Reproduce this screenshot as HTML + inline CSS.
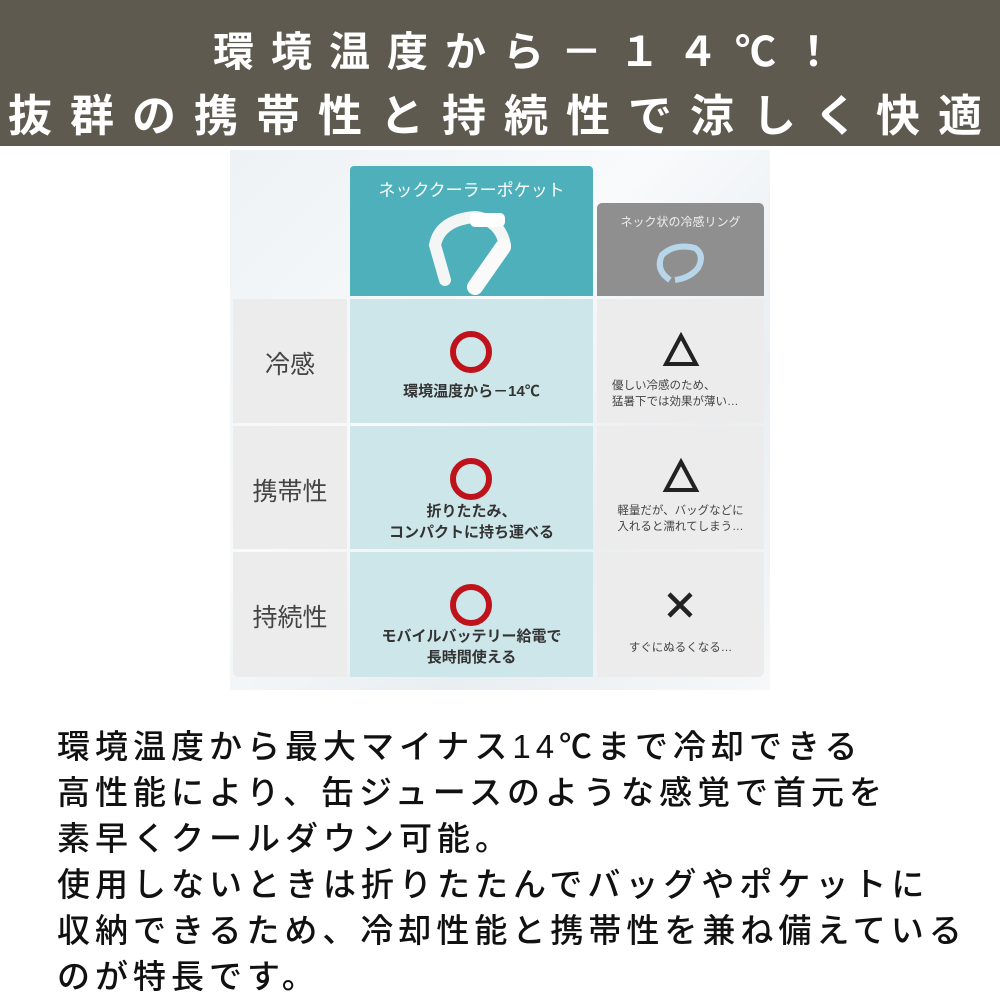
<!DOCTYPE html>
<html><head><meta charset="utf-8"><style>
body{margin:0;width:1000px;height:1000px;position:relative;background:#fff;overflow:hidden;font-family:"Liberation Sans","Noto Sans CJK JP",sans-serif;}
.hd{position:absolute;left:0;top:0;width:1000px;height:146px;background:#5e5a50;}
.t{position:absolute;white-space:nowrap;color:#fff;font-weight:bold;}
.a{position:absolute;}
.c{position:absolute;text-align:center;white-space:nowrap;}
.ring{position:absolute;width:30px;height:30px;border:6px solid #c0121b;border-radius:50%;}
.body{position:absolute;left:57px;font-size:33px;color:#111;white-space:nowrap;font-weight:500;letter-spacing:5px;}
</style></head><body>
<div class="hd"></div>
<div class="t" style="left:213px;top:18px;font-size:41px;letter-spacing:17px;">環境温度から－１４℃！</div>
<div class="t" style="left:8px;top:80px;font-size:44px;letter-spacing:18px;">抜群の携帯性と持続性で涼しく快適</div>

<div class="a" style="left:230px;top:150px;width:540px;height:540px;background:linear-gradient(135deg,#eef2f5,#f8fafb 40%,#e9eef2 70%,#f6f8f9);"></div>
<div class="a" style="left:233px;top:299px;width:114px;height:124px;background:#ececec"></div>
<div class="a" style="left:233px;top:426px;width:114px;height:123px;background:#ececec"></div>
<div class="a" style="left:233px;top:552px;width:114px;height:125px;background:#ececec;border-radius:0 0 0 6px"></div>
<div class="a" style="left:350px;top:166px;width:243px;height:130px;background:#4eb0ba;border-radius:4px 4px 0 0"></div>
<div class="a" style="left:350px;top:299px;width:243px;height:124px;background:#cde6ea"></div>
<div class="a" style="left:350px;top:426px;width:243px;height:123px;background:#cde6ea"></div>
<div class="a" style="left:350px;top:552px;width:243px;height:125px;background:#cde6ea"></div>
<div class="a" style="left:597px;top:203px;width:167px;height:93px;background:#8f8f8f;border-radius:5px 5px 0 0"></div>
<div class="a" style="left:597px;top:299px;width:167px;height:124px;background:#ececec"></div>
<div class="a" style="left:597px;top:426px;width:167px;height:123px;background:#ececec"></div>
<div class="a" style="left:597px;top:552px;width:167px;height:125px;background:#ececec;border-radius:0 0 6px 0"></div>

<div class="c" style="left:350px;width:243px;top:176px;font-size:17px;color:#fff;">ネッククーラーポケット</div>
<svg class="a" style="left:415px;top:205px" width="110" height="90" viewBox="0 0 110 90">
<path d="M30 75 L20 40 Q25 15 60 12 Q85 15 90 40" fill="none" stroke="#f4f6f6" stroke-width="12" stroke-linecap="round"/>
<path d="M88 42 L60 82" stroke="#fafafa" stroke-width="16" stroke-linecap="round"/>
<rect x="55" y="8" width="35" height="14" rx="5" fill="#fff"/>
</svg>
<div class="c" style="left:597px;width:167px;top:213px;font-size:12px;color:#eee;">ネック状の冷感リング</div>
<svg class="a" style="left:650px;top:240px" width="60" height="46"><path d="M20 40 Q5 30 12 15 Q25 3 45 8 Q55 15 48 28 Q40 38 25 40" fill="none" stroke="#b8d6ea" stroke-width="6"/></svg>

<div class="c" style="left:233px;width:114px;top:345px;font-size:25px;color:#444">冷感</div>
<div class="c" style="left:233px;width:114px;top:472px;font-size:25px;color:#444">携帯性</div>
<div class="c" style="left:233px;width:114px;top:598px;font-size:25px;color:#444">持続性</div>

<div class="ring" style="left:450px;top:331px"></div>
<div class="c" style="left:350px;width:243px;top:380px;font-size:15px;color:#333;font-weight:bold">環境温度から－14℃</div>
<div class="ring" style="left:450px;top:458px"></div>
<div class="c" style="left:350px;width:243px;top:501px;font-size:15px;line-height:21px;color:#333;font-weight:bold">折りたたみ、<br>コンパクトに持ち運べる</div>
<div class="ring" style="left:450px;top:584px"></div>
<div class="c" style="left:350px;width:243px;top:626px;font-size:15px;line-height:21px;color:#333;font-weight:bold">モバイルバッテリー給電で<br>長時間使える</div>

<svg class="a" style="left:662px;top:332px" width="38" height="36"><polygon points="19,4 34,32 4,32" fill="none" stroke="#222" stroke-width="4"/></svg>
<div class="a" style="left:600px;top:378px;font-size:11.5px;line-height:16px;color:#444;white-space:nowrap;padding-left:12px">優しい冷感のため、<br>猛暑下では効果が薄い…</div>
<svg class="a" style="left:662px;top:458px" width="38" height="36"><polygon points="19,4 34,32 4,32" fill="none" stroke="#222" stroke-width="4"/></svg>
<div class="c" style="left:597px;width:167px;top:503px;font-size:11.5px;line-height:16px;color:#444">軽量だが、バッグなどに<br>入れると濡れてしまう…</div>
<svg class="a" style="left:665px;top:590px" width="30" height="30"><path d="M4 4L26 26M26 4L4 26" stroke="#222" stroke-width="4.5"/></svg>
<div class="c" style="left:597px;width:167px;top:639px;font-size:11.5px;color:#444">すぐにぬるくなる…</div>

<div class="body" style="top:720px">環境温度から最大マイナス14℃まで冷却できる</div>
<div class="body" style="top:766px">高性能により、缶ジュースのような感覚で首元を</div>
<div class="body" style="top:812px">素早くクールダウン可能。</div>
<div class="body" style="top:858px">使用しないときは折りたたんでバッグやポケットに</div>
<div class="body" style="top:904px">収納できるため、冷却性能と携帯性を兼ね備えている</div>
<div class="body" style="top:950px">のが特長です。</div>
</body></html>
